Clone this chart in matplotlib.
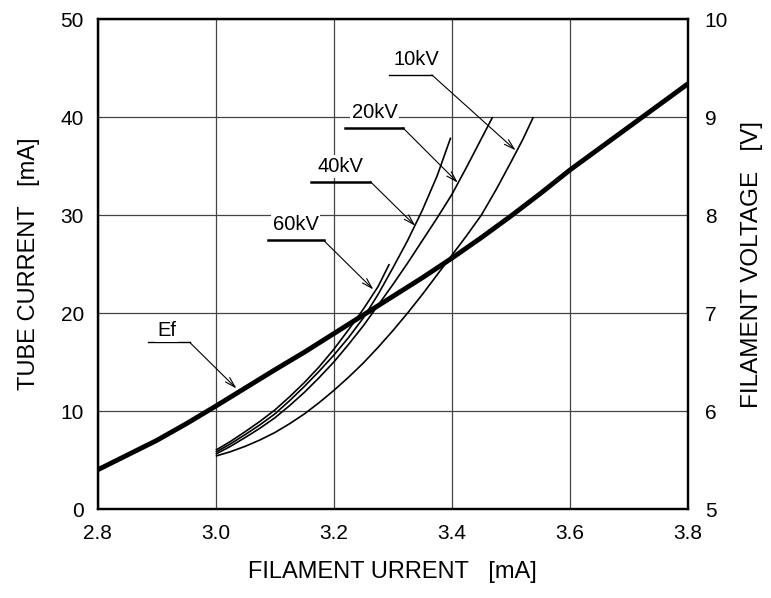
import matplotlib
matplotlib.use("Agg")
import matplotlib.pyplot as plt

plt.rcParams["font.family"] = ["Liberation Sans", "DejaVu Sans"]

# Tube current [mA] vs filament current, one curve per tube voltage
fil_10kv = [3.000, 3.025, 3.050, 3.075, 3.100, 3.125, 3.150, 3.175, 3.200, 3.225, 3.250,
            3.275, 3.300, 3.325, 3.350, 3.375, 3.400, 3.425, 3.450, 3.475, 3.500, 3.520, 3.538]
cur_10kv = [5.4, 5.85, 6.4, 7.05, 7.8, 8.7, 9.7, 10.85, 12.1, 13.45, 14.9,
            16.5, 18.2, 20.0, 21.9, 23.9, 25.9, 27.9, 30.0, 32.6, 35.4, 37.7, 40.0]

fil_20kv = [3.000, 3.025, 3.050, 3.075, 3.100, 3.125, 3.150, 3.175, 3.200, 3.225,
            3.250, 3.275, 3.300, 3.325, 3.350, 3.375, 3.400, 3.425, 3.450, 3.469]
cur_20kv = [5.6, 6.4, 7.3, 8.25, 9.3, 10.55, 11.9, 13.4, 15.0, 16.8,
            18.7, 20.8, 22.9, 25.1, 27.4, 29.7, 32.1, 34.9, 37.8, 40.0]

fil_40kv = [3.000, 3.025, 3.050, 3.075, 3.100, 3.125, 3.150, 3.175, 3.200,
            3.225, 3.250, 3.275, 3.300, 3.325, 3.350, 3.375, 3.398]
cur_40kv = [5.8, 6.65, 7.6, 8.6, 9.7, 11.05, 12.5, 14.05, 15.7,
            17.5, 19.5, 21.9, 24.6, 27.4, 30.5, 34.0, 37.9]

fil_60kv = [3.000, 3.025, 3.050, 3.075, 3.100, 3.125, 3.150, 3.175, 3.200,
            3.225, 3.250, 3.275, 3.294]
cur_60kv = [6.0, 6.9, 7.9, 8.95, 10.1, 11.45, 12.9, 14.5, 16.3,
            18.3, 20.4, 22.7, 25.0]

# Filament voltage Ef [V] (right axis)
fil_ef = [2.80, 2.85, 2.90, 2.95, 3.00, 3.05, 3.10, 3.15, 3.20, 3.25, 3.30,
          3.35, 3.40, 3.45, 3.50, 3.55, 3.60, 3.65, 3.70, 3.75, 3.80]
volt_ef = [5.40, 5.55, 5.70, 5.87, 6.05, 6.235, 6.42, 6.60, 6.79, 6.98, 7.17,
           7.36, 7.56, 7.77, 7.99, 8.22, 8.46, 8.68, 8.90, 9.12, 9.34]

x_ticks = [2.8, 3.0, 3.2, 3.4, 3.6, 3.8]
y_ticks = [0, 10, 20, 30, 40, 50]
v_ticks = [5, 6, 7, 8, 9, 10]

# label: (text x, text y, leader x0, leader x1, leader y, arrow tip x, tip y, leader lw)
labels = {
    "10kV": (3.340, 45.9, 3.293, 3.366, 44.3, 3.508, 36.6, 1.0),
    "20kV": (3.269, 40.5, 3.219, 3.317, 38.9, 3.410, 33.3, 1.8),
    "40kV": (3.212, 35.0, 3.161, 3.262, 33.4, 3.338, 28.9, 1.8),
    "60kV": (3.135, 29.0, 3.088, 3.183, 27.4, 3.267, 22.4, 1.8),
    "Ef": (2.917, 18.2, 2.886, 2.956, 17.0, 3.035, 12.3, 1.0),
}

fig = plt.figure(figsize=(7.71, 5.98), dpi=100)
ax = fig.add_axes([0.1267, 0.1488, 0.7657, 0.8194])

for xs, ys in [(fil_10kv, cur_10kv), (fil_20kv, cur_20kv),
               (fil_40kv, cur_40kv), (fil_60kv, cur_60kv)]:
    ax.plot(xs, ys, color="black", lw=1.2, solid_joinstyle="round",
            solid_capstyle="butt", zorder=3)

ax.set_xlim(2.8, 3.8)
ax.set_ylim(0, 50)
ax.set_xticks(x_ticks)
ax.set_xticklabels([f"{v:.1f}" for v in x_ticks])
ax.set_yticks(y_ticks)
ax.grid(color="#444444", lw=0.9)
ax.tick_params(length=0, labelsize=15, pad=10)
ax.tick_params(axis="x", pad=11)
for sp in ax.spines.values():
    sp.set_linewidth(1.6)

ax.set_xlabel("FILAMENT URRENT   [mA]", fontsize=17, labelpad=13)
ax.set_ylabel("TUBE CURRENT   [mA]", fontsize=17, labelpad=15)

for name, (tx, ty, lx0, lx1, ly, px, py, llw) in labels.items():
    ax.plot([lx0, lx1], [ly, ly], color="black", lw=llw, zorder=4)
    ax.annotate("", xy=(px, py), xytext=(lx1, ly),
                arrowprops=dict(arrowstyle="->,head_length=0.75,head_width=0.22",
                                color="black", lw=0.8, shrinkA=0, shrinkB=0),
                zorder=4)
    ax.text(tx, ty, name, fontsize=14.5, ha="center", va="center", zorder=5,
            bbox=dict(facecolor="white", edgecolor="none", pad=1.5))

ax2 = ax.twinx()
ax2.plot(fil_ef, volt_ef, color="black", lw=3.5, solid_joinstyle="round",
         solid_capstyle="butt", zorder=3)
ax2.set_ylim(5, 10)
ax2.set_yticks(v_ticks)
ax2.tick_params(length=0, labelsize=15, pad=12)
ax2.set_ylabel("FILAMENT VOLTAGE   [V]", fontsize=17.5, labelpad=9)
for sp in ax2.spines.values():
    sp.set_linewidth(1.6)

fig.savefig("out.png", dpi=100)
